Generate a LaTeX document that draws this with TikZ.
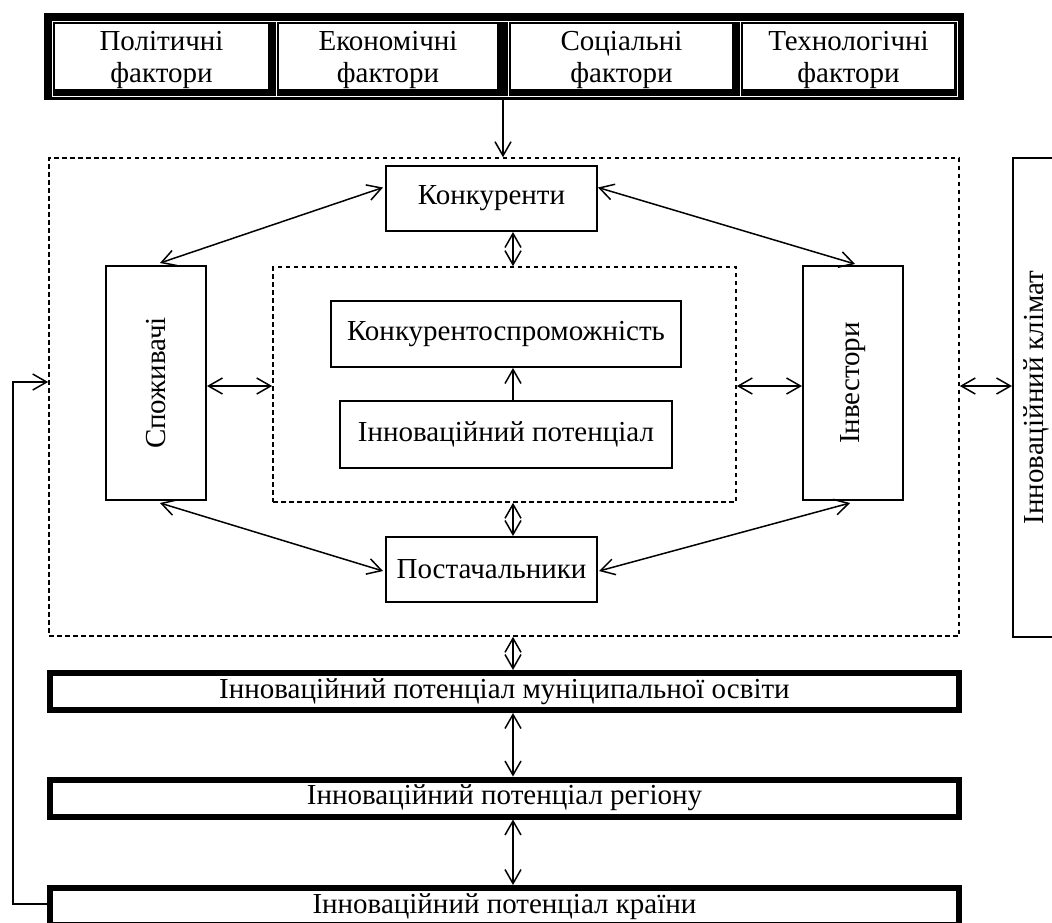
\documentclass[tikz,border=0pt]{standalone}
\usepackage{fontspec}
\setmainfont{Liberation Serif}
\usetikzlibrary{arrows.meta,calc}
\begin{document}
\begin{tikzpicture}[x=1pt,y=-1pt,
  font=\fontsize{29}{32}\selectfont,
  box/.style={draw, line width=2pt, inner sep=0pt, align=center},
  thickbox/.style={draw, line width=6pt, inner sep=0pt, minimum width=909pt, minimum height=37pt},
  dbox/.style={draw, line width=1.6pt, dash pattern=on 4.5pt off 3.5pt, inner sep=0pt},
  tip/.tip={Straight Barb[length=14pt,width=16pt,line width=1.5pt]},
  arr/.style={line width=1.5pt, -tip},
  darr/.style={line width=1.5pt, tip-tip},
  cell/.style={align=center, inner sep=0pt}]
\useasboundingbox (0,0) rectangle (1052,922);

% ---- factor table ----
\node[fill=black, inner sep=0pt, minimum width=920pt, minimum height=87pt] (tbl) at (504,56.5) {};
\draw[white, line width=0.8pt] (52,21) rectangle (957,96);
\foreach \xx in {276,508,740} \draw[white, line width=0.8pt] (\xx,21) -- (\xx,96);
\fill[white] (55,24) rectangle (268,89);
\fill[white] (279,24) rectangle (497,89);
\fill[white] (511,24) rectangle (732,89);
\fill[white] (743,24) rectangle (954,89);
\node[cell] (f1) at (161.5,60) {Політичні\\фактори};
\node[cell] (f2) at (388,60) {Економічні\\фактори};
\node[cell] (f3) at (621.5,60) {Соціальні\\фактори};
\node[cell] (f4) at (848.5,60) {Технологічні\\фактори};

% ---- dashed frames ----
\node[dbox, minimum width=910pt, minimum height=478pt] (outer) at (504,397) {};
\node[dbox, minimum width=463pt, minimum height=235pt] (inner) at (504.5,384.5) {};

% ---- boxes ----
\node[box, minimum width=211pt, minimum height=65pt] (konk) at (491.5,198.5) {Конкуренти};
\node[box, minimum width=211pt, minimum height=65pt] (post) at (491.5,569.5) {Постачальники};
\node[box, minimum width=100pt, minimum height=234pt] (spozh) at (156,383) {};
\node[rotate=90, inner sep=0pt] (spozhT) at (spozh.center) {Споживачі};
\node[box, minimum width=100pt, minimum height=234pt] (inv) at (853,383) {};
\node[rotate=90, inner sep=0pt] (invT) at (inv.center) {Інвестори};
\node[box, minimum width=350pt, minimum height=66pt] (ks) at (506,334) {Конкурентоспроможність};
\node[box, minimum width=332pt, minimum height=67pt] (ip) at (506,434.5) {Інноваційний потенціал};
\node[draw, line width=2pt, inner sep=0pt, minimum width=43pt, minimum height=479pt] (clim) at (1034.5,397.5) {};
\node[rotate=90, inner sep=0pt] (climT) at (1036,397.5) {Інноваційний клімат};

% ---- bottom levels ----
\node[thickbox] (muni) at (504.5,691.5) {Інноваційний потенціал муніципальної освіти};
\node[thickbox] (reg) at (504.5,798) {Інноваційний потенціал регіону};
\node[thickbox] (country) at (504.5,906.5) {Інноваційний потенціал країни};

% ---- helper coordinates ----
\coordinate (ax) at (513,0);
\coordinate (tx) at (503,0);
\coordinate (ay) at (0,386);
\coordinate (fb1) at (13,904);
\coordinate (fb2) at (13,382);

% ---- connectors ----
\draw[arr] (tbl.south -| tx) -- (outer.north -| tx);
\draw[darr] (konk.south -| ax) -- (inner.north -| ax);
\draw[darr] (inner.south -| ax) -- (post.north -| ax);
\draw[arr] (ip.north -| ax) -- (ks.south -| ax);
\draw[darr] (outer.south -| ax) -- (muni.north -| ax);
\draw[darr] (muni.south -| ax) -- (reg.north -| ax);
\draw[darr] (reg.south -| ax) -- (country.north -| ax);

\draw[darr] (spozh.east |- ay) -- (inner.west |- ay);
\draw[darr] (inner.east |- ay) -- (inv.west |- ay);
\draw[darr] (outer.east |- ay) -- (clim.west |- ay);

\draw[darr] ($(spozh.north)+(4,-2)$) -- ($(konk.west)+(-2,-11)$);
\draw[darr] ($(konk.east)+(0,-11)$) -- ($(inv.north)+(2,-1)$);
\draw[darr] ($(spozh.south)+(4,2)$) -- ($(post.west)+(-2,1.5)$);
\draw[darr] ($(post.east)+(1,1.5)$) -- ($(inv.south)+(-3,2)$);

\draw[line width=1.2pt, -tip] (country.west |- fb1) -- (fb1) -- (fb2) -- (outer.west |- fb2);
\end{tikzpicture}
\end{document}
